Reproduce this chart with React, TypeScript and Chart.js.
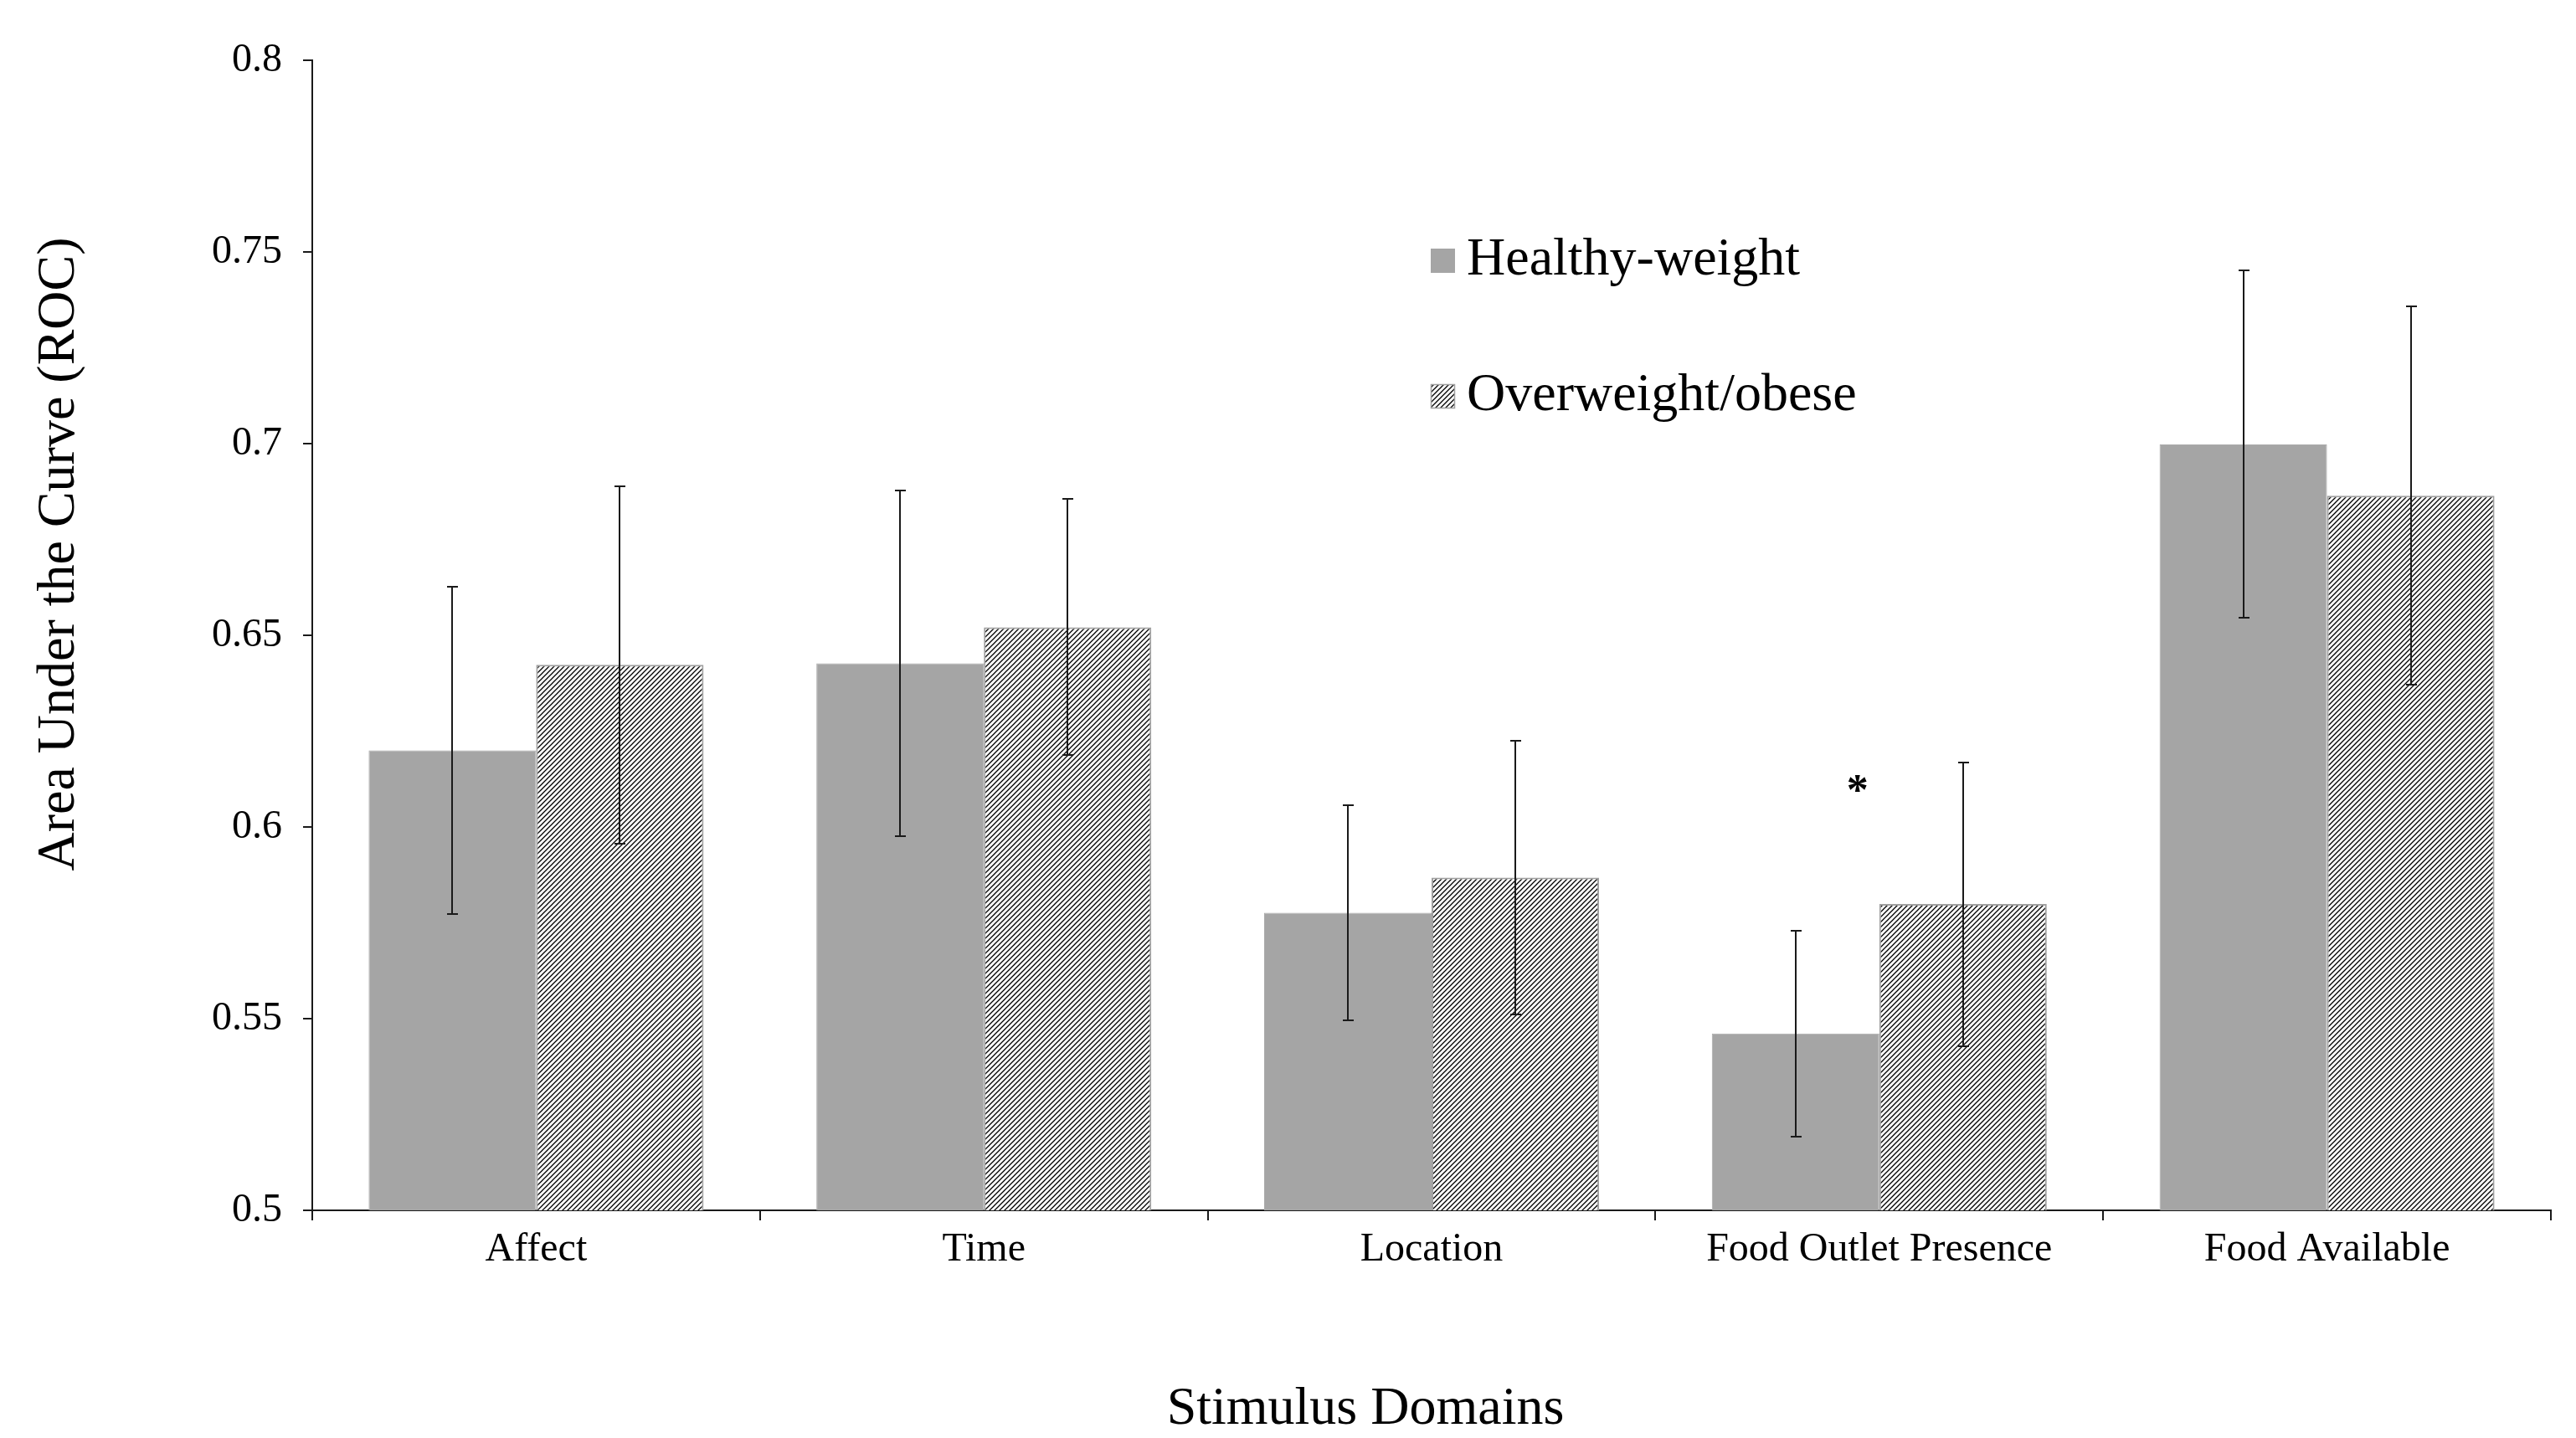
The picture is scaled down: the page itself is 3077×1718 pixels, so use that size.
import React, { useEffect, useRef } from "react";
import { Chart, registerables } from "chart.js";

Chart.register(...registerables);

const CATEGORIES = ["Affect", "Time", "Location", "Food Outlet Presence", "Food Available"];
const SERIES_NAMES = ["Healthy-weight", "Overweight/obese"];
const HEALTHY = [0.62, 0.6427, 0.5776, 0.5461, 0.6998];
const HEALTHY_ERR = [0.0426, 0.045, 0.028, 0.0268, 0.0453];
const OVERWEIGHT = [0.6423, 0.6521, 0.5868, 0.5799, 0.6864];
const OVERWEIGHT_ERR = [0.0466, 0.0334, 0.0357, 0.037, 0.0493];
const Y_TICKS = [0.5, 0.55, 0.6, 0.65, 0.7, 0.75, 0.8];
const Y_TICK_LABELS = ["0.5", "0.55", "0.6", "0.65", "0.7", "0.75", "0.8"];
const SIGNIFICANCE_MARKS = ["", "", "", "*", ""];
const SIGNIFICANCE_LEVEL = [0, 0, 0, 0.6121, 0];
const X_TITLE = "Stimulus Domains";
const Y_TITLE = "Area Under the Curve (ROC)";

const FONT = "'Liberation Serif', 'Times New Roman', Times, serif";
const GRAY = "#a5a5a5";
const AXIS = "#1a1a1a";

function makeHatch(): CanvasPattern | string {
  const p = 6;
  const c = document.createElement("canvas");
  c.width = p;
  c.height = p;
  const g = c.getContext("2d");
  if (!g) return "#888";
  g.fillStyle = "#ffffff";
  g.fillRect(0, 0, p, p);
  g.strokeStyle = "#000000";
  g.lineWidth = 1.3;
  g.beginPath();
  g.moveTo(0, p);
  g.lineTo(p, 0);
  g.moveTo(-p / 2, p / 2);
  g.lineTo(p / 2, -p / 2);
  g.moveTo(p / 2, p * 1.5);
  g.lineTo(p * 1.5, p / 2);
  g.stroke();
  return g.createPattern(c, "repeat") || "#888";
}

export default function App() {
  const ref = useRef<HTMLCanvasElement | null>(null);

  useEffect(() => {
    const canvas = ref.current;
    if (!canvas) return;
    const hatch = makeHatch();

    const overlay = {
      id: "overlay",
      afterDatasetsDraw(chart: any) {
        const ctx = chart.ctx as CanvasRenderingContext2D;
        const ys = chart.scales.y;
        const xs = chart.scales.x;
        const vals = [HEALTHY, OVERWEIGHT];
        const errs = [HEALTHY_ERR, OVERWEIGHT_ERR];
        ctx.save();
        ctx.strokeStyle = AXIS;
        ctx.lineWidth = 2;
        for (let d = 0; d < 2; d++) {
          const meta = chart.getDatasetMeta(d);
          meta.data.forEach((bar: any, i: number) => {
            const x = Math.round(bar.x);
            const hi = Math.round(ys.getPixelForValue(vals[d][i] + errs[d][i]));
            const lo = Math.round(ys.getPixelForValue(vals[d][i] - errs[d][i]));
            ctx.beginPath();
            ctx.moveTo(x, hi);
            ctx.lineTo(x, lo);
            ctx.moveTo(x - 6, hi);
            ctx.lineTo(x + 7, hi);
            ctx.moveTo(x - 6, lo);
            ctx.lineTo(x + 7, lo);
            ctx.stroke();
          });
        }
        // significance marks
        ctx.fillStyle = "#000";
        ctx.font = `bold 52px ${FONT}`;
        ctx.textAlign = "center";
        ctx.textBaseline = "alphabetic";
        SIGNIFICANCE_MARKS.forEach((m, i) => {
          if (!m) return;
          const x = xs.getPixelForValue(i) - 26;
          const y = ys.getPixelForValue(SIGNIFICANCE_LEVEL[i]);
          ctx.fillText(m, x, y + 28);
        });
        ctx.restore();
      },
      afterDraw(chart: any) {
        const ctx = chart.ctx as CanvasRenderingContext2D;
        ctx.save();
        // legend
        const fills: (string | CanvasPattern)[] = [GRAY, hatch];
        const boxTops = [297, 459];
        const baselines = [328, 490];
        ctx.font = `64px ${FONT}`;
        ctx.textAlign = "left";
        ctx.textBaseline = "alphabetic";
        SERIES_NAMES.forEach((name, i) => {
          ctx.fillStyle = fills[i] as any;
          ctx.fillRect(1709, boxTops[i], 29, 29);
          if (i === 1) {
            ctx.strokeStyle = "#a0a0a0";
            ctx.lineWidth = 1.5;
            ctx.strokeRect(1709.5, boxTops[i] + 0.5, 28, 28);
          }
          ctx.fillStyle = "#000";
          ctx.fillText(name, 1752, baselines[i]);
        });
        // axis titles
        ctx.font = `64px ${FONT}`;
        ctx.textAlign = "center";
        ctx.textBaseline = "middle";
        ctx.fillStyle = "#000";
        ctx.fillText(X_TITLE, 1631, 1684);
        ctx.translate(71, 662);
        ctx.rotate(-Math.PI / 2);
        ctx.fillText(Y_TITLE, 0, 0);
        ctx.restore();
      },
    };

    const chart = new Chart(canvas, {
      type: "bar",
      data: {
        labels: CATEGORIES,
        datasets: [
          {
            label: SERIES_NAMES[0],
            data: HEALTHY,
            backgroundColor: GRAY,
            borderColor: "#aaaaaa",
            borderWidth: 1,
            categoryPercentage: 0.748,
            barPercentage: 1,
          },
          {
            label: SERIES_NAMES[1],
            data: OVERWEIGHT,
            backgroundColor: hatch as any,
            borderColor: "#a0a0a0",
            borderWidth: 2,
            categoryPercentage: 0.748,
            barPercentage: 1,
          },
        ],
      },
      options: {
        animation: false,
        responsive: false,
        maintainAspectRatio: false,
        devicePixelRatio: 1,
        events: [],
        layout: { padding: { left: 0, top: 72, right: 30, bottom: 0 } },
        plugins: {
          legend: { display: false },
          tooltip: { enabled: false },
          title: { display: false },
        },
        scales: {
          x: {
            type: "category",
            offset: true,
            afterFit: (scale: any) => {
              scale.height = 272;
            },
            grid: {
              offset: true,
              drawOnChartArea: false,
              drawTicks: true,
              tickLength: 12,
              color: AXIS,
              lineWidth: 2,
            },
            border: { display: true, color: AXIS, width: 2 },
            ticks: {
              color: "#000",
              font: { family: FONT, size: 48 },
              padding: 7,
              maxRotation: 0,
              autoSkip: false,
            },
          },
          y: {
            type: "linear",
            min: 0.5,
            max: 0.8,
            afterFit: (scale: any) => {
              scale.width = 373;
            },
            afterBuildTicks: (scale: any) => {
              scale.ticks = Y_TICKS.map((v) => ({ value: v }));
            },
            grid: {
              drawOnChartArea: false,
              drawTicks: true,
              tickLength: 11,
              color: AXIS,
              lineWidth: 2,
            },
            border: { display: true, color: AXIS, width: 2 },
            ticks: {
              color: "#000",
              font: { family: FONT, size: 48 },
              padding: 25,
              callback: (_v: any, i: number) => Y_TICK_LABELS[i],
            },
          },
        },
      },
      plugins: [overlay],
    } as any);

    return () => {
      chart.destroy();
    };
  }, []);

  return (
    <div
      style={{
        position: "fixed",
        left: 0,
        top: 0,
        width: 3077,
        height: 1718,
        background: "#ffffff",
      }}
    >
      <canvas ref={ref} width={3077} height={1718} style={{ display: "block", width: 3077, height: 1718 }} />
    </div>
  );
}
